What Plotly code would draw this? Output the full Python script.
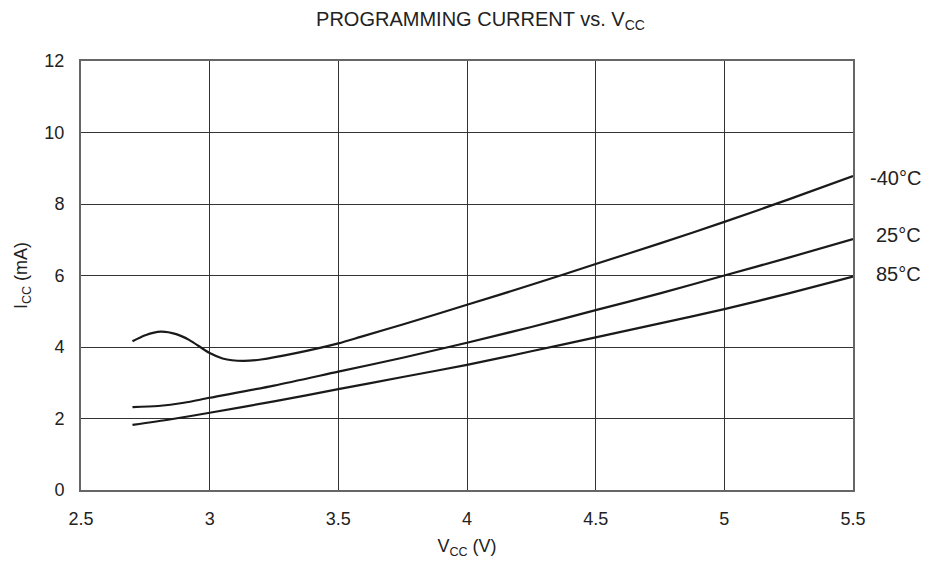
import plotly.graph_objects as go

# Supply voltage (V) and programming current (mA)
vcc_m40 = [2.70, 2.75, 2.81, 2.87, 2.92, 3.00, 3.05, 3.13, 3.20, 3.33, 3.50, 3.59, 3.75, 4.00, 4.25, 4.50, 4.75, 5.00, 5.25, 5.50]
icc_m40 = [4.16, 4.33, 4.43, 4.36, 4.20, 3.83, 3.68, 3.61, 3.65, 3.82, 4.10, 4.29, 4.63, 5.18, 5.74, 6.32, 6.90, 7.50, 8.13, 8.78]

vcc_25 = [2.70, 2.80, 2.90, 3.00, 3.25, 3.50, 3.75, 4.00, 4.25, 4.50, 4.75, 5.00, 5.25, 5.50]
icc_25 = [2.32, 2.35, 2.44, 2.58, 2.92, 3.31, 3.70, 4.12, 4.56, 5.03, 5.50, 6.00, 6.50, 7.02]

vcc_85 = [2.70, 2.85, 3.00, 3.25, 3.50, 3.75, 4.00, 4.25, 4.50, 4.75, 5.00, 5.25, 5.50]
icc_85 = [1.82, 1.98, 2.16, 2.48, 2.82, 3.16, 3.50, 3.88, 4.27, 4.66, 5.06, 5.50, 5.97]

labels = ["-40°C", "25°C", "85°C"]
label_y = [8.73, 7.12, 6.04]

x_ticks = [2.5, 3, 3.5, 4, 4.5, 5, 5.5]
y_ticks = [0, 2, 4, 6, 8, 10, 12]

font = "Liberation Sans, Arial, sans-serif"

fig = go.Figure()
for vx, iy in [(vcc_m40, icc_m40), (vcc_25, icc_25), (vcc_85, icc_85)]:
    fig.add_trace(go.Scatter(
        x=vx, y=iy, mode="lines",
        line=dict(color="#1a1a1a", width=2.2, shape="spline", smoothing=0.8),
        showlegend=False, hoverinfo="skip",
    ))

# Temperature labels right of the plot
for text, ly in zip(labels, label_y):
    fig.add_annotation(
        x=1, xref="paper", xshift=70, y=ly, yref="y",
        text=text, showarrow=False, xanchor="right", yanchor="middle",
        font=dict(size=20, color="#222", family=font),
    )

# page body adds an 8px offset, so margins are shifted to compensate
fig.update_layout(
    width=938, height=567,
    margin=dict(l=70, r=93, t=53, b=85),
    paper_bgcolor="white", plot_bgcolor="white",
    font=dict(family=font, color="#222", size=18),
    title=dict(
        text="PROGRAMMING CURRENT vs. V<sub>CC</sub>",
        x=0.5037, xanchor="center", y=0.981, yanchor="middle",
        font=dict(size=20, family=font, color="#222"),
    ),
)
fig.update_xaxes(
    range=[2.5, 5.5], tickvals=x_ticks, ticktext=[f"{v:g}" for v in x_ticks],
    tickfont=dict(size=18),
    showgrid=True, gridcolor="#333", gridwidth=1,
    showline=True, linecolor="#666", linewidth=2, mirror=True,
    zeroline=False, ticks="", ticklabelstandoff=11,
    title=dict(text="V<sub>CC</sub> (V)", font=dict(size=18, family=font), standoff=12),
)
fig.update_yaxes(
    range=[0, 12], tickvals=y_ticks, tickfont=dict(size=18),
    showgrid=True, gridcolor="#333", gridwidth=1,
    showline=True, linecolor="#666", linewidth=2, mirror=True,
    zeroline=False, ticks="", ticklabelstandoff=11,
    title=dict(text="I<sub>CC</sub> (mA)", font=dict(size=18, family=font), standoff=12),
)

fig.write_html("out.html")
